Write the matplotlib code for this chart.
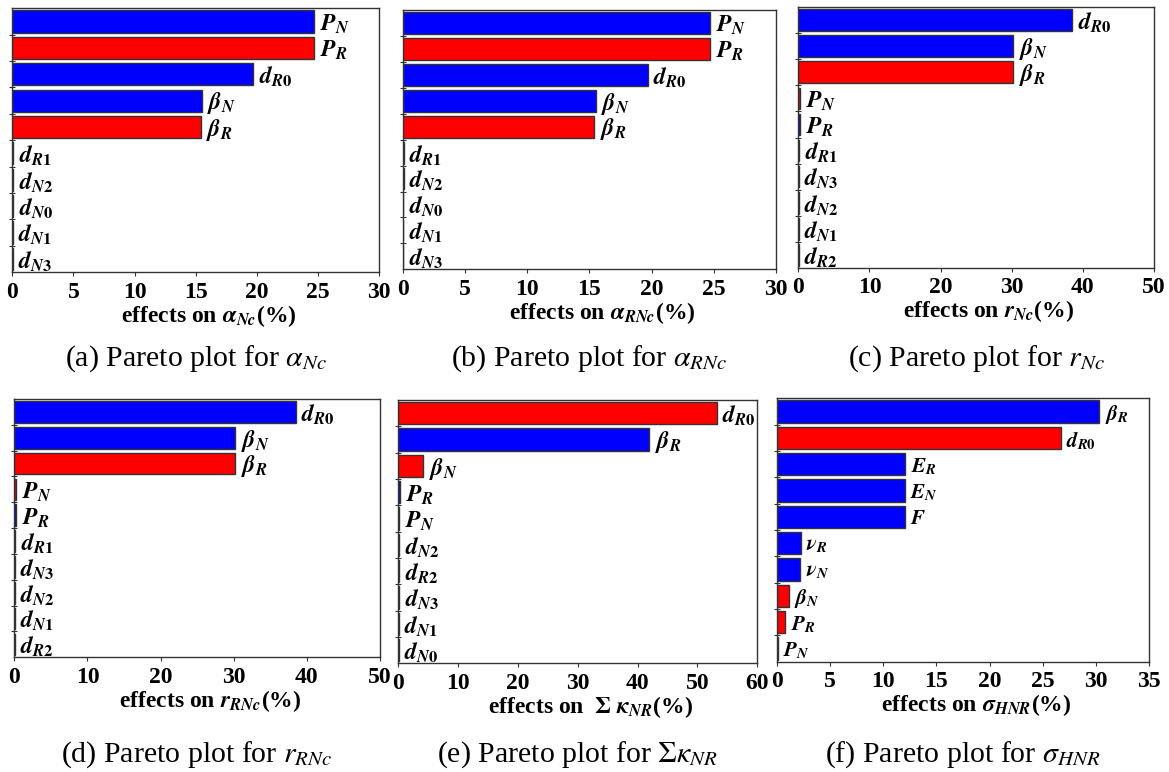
import numpy as np
import matplotlib
matplotlib.use('Agg')
import matplotlib.pyplot as plt

plt.rcParams['font.family'] = ['Liberation Serif', 'DejaVu Serif']
plt.rcParams['mathtext.fontset'] = 'stix'

B = '#0000ff'
R = '#ff0000'

# (a) effects on alpha_Nc
a_names = ['P_N', 'P_R', 'd_R0', 'beta_N', 'beta_R', 'd_R1', 'd_N2', 'd_N0', 'd_N1', 'd_N3']
a_values = [24.7, 24.7, 19.7, 15.5, 15.4, 0.08, 0.07, 0.06, 0.05, 0.04]
a_colors = [B, R, B, B, R, R, B, B, B, B]

# (b) effects on alpha_RNc
b_names = ['P_N', 'P_R', 'd_R0', 'beta_N', 'beta_R', 'd_R1', 'd_N2', 'd_N0', 'd_N1', 'd_N3']
b_values = [24.7, 24.7, 19.7, 15.5, 15.4, 0.08, 0.07, 0.06, 0.05, 0.04]
b_colors = [B, R, B, B, R, R, B, B, B, B]

# (c) effects on r_Nc
c_names = ['d_R0', 'beta_N', 'beta_R', 'P_N', 'P_R', 'd_R1', 'd_N3', 'd_N2', 'd_N1', 'd_R2']
c_values = [38.5, 30.2, 30.2, 0.3, 0.25, 0.1, 0.08, 0.07, 0.06, 0.05]
c_colors = [B, B, R, R, B, R, B, B, B, R]

# (d) effects on r_RNc
d_names = ['d_R0', 'beta_N', 'beta_R', 'P_N', 'P_R', 'd_R1', 'd_N3', 'd_N2', 'd_N1', 'd_R2']
d_values = [38.5, 30.2, 30.2, 0.3, 0.25, 0.1, 0.08, 0.07, 0.06, 0.05]
d_colors = [B, B, R, R, B, R, B, B, B, R]

# (e) effects on sum kappa_NR
e_names = ['d_R0', 'beta_R', 'beta_N', 'P_R', 'P_N', 'd_N2', 'd_R2', 'd_N3', 'd_N1', 'd_N0']
e_values = [53.2, 41.9, 4.2, 0.3, 0.2, 0.2, 0.15, 0.15, 0.1, 0.1]
e_colors = [R, B, R, B, B, B, R, B, R, B]

# (f) effects on sigma_HNR
f_names = ['beta_R', 'd_R0', 'E_R', 'E_N', 'F', 'nu_R', 'nu_N', 'beta_N', 'P_R', 'P_N']
f_values = [30.3, 26.7, 12.05, 12.0, 12.0, 2.25, 2.2, 1.1, 0.75, 0.05]
f_colors = [B, R, B, B, B, B, B, R, R, B]

panels = [
    dict(names=a_names, values=a_values, colors=a_colors, xmax=30, step=5,
         xlabel=r'effects on $\mathbfit{\alpha}_{\mathbfit{Nc}}$(%)',
         caption=r'(a) Pareto plot for $\alpha_{Nc}$', box=(12.3, 8.3, 379, 272), fs=17),
    dict(names=b_names, values=b_values, colors=b_colors, xmax=30, step=5,
         xlabel=r'effects on $\mathbfit{\alpha}_{\mathbfit{RNc}}$(%)',
         caption=r'(b) Pareto plot for $\alpha_{RNc}$', box=(402.7, 10, 776, 269.3), fs=17),
    dict(names=c_names, values=c_values, colors=c_colors, xmax=50, step=10,
         xlabel=r'effects on $\mathbfit{r}_{\mathbfit{Nc}}$(%)',
         caption=r'(c) Pareto plot for $r_{Nc}$', box=(798.3, 7.3, 1154, 267.7), fs=17),
    dict(names=d_names, values=d_values, colors=d_colors, xmax=50, step=10,
         xlabel=r'effects on $\mathbfit{r}_{\mathbfit{RNc}}$(%)',
         caption=r'(d) Pareto plot for $r_{RNc}$', box=(14.3, 399, 380, 657.3), fs=17),
    dict(names=e_names, values=e_values, colors=e_colors, xmax=60, step=10,
         xlabel=r'effects on  $\mathbf{\Sigma}\ \mathbfit{\kappa}_{\mathbfit{NR}}$(%)',
         caption=r'(e) Pareto plot for $\Sigma\kappa_{NR}$', box=(398.3, 400, 757.3, 663.3), fs=17),
    dict(names=f_names, values=f_values, colors=f_colors, xmax=35, step=5,
         xlabel=r'effects on $\mathbfit{\sigma}_{\mathbfit{HNR}}$(%)',
         caption=r'(f) Pareto plot for $\sigma_{HNR}$', box=(777, 398.3, 1149, 661.7), fs=15),
]

W, H = 1169, 772


def fmt(name):
    # "beta_R" -> bold italic beta with bold italic R subscript, digits upright bold
    base, _, sub = name.partition('_')
    if base in ('beta', 'nu'):
        base = '\\' + base
    s = ''.join(r'\mathbf{%s}' % ch if ch.isdigit() else r'\mathbfit{%s}' % ch for ch in sub)
    if s:
        return r'$\mathbfit{%s}_{%s}$' % (base, s)
    return r'$\mathbfit{%s}$' % base


fig = plt.figure(figsize=(W / 100, H / 100), dpi=100)

for p in panels:
    l, t, r, b = p['box']
    ax = fig.add_axes([l / W, 1 - b / H, (r - l) / W, (b - t) / H])
    n = len(p['names'])
    y = np.arange(n)
    ax.barh(y, p['values'], height=0.84, color=p['colors'],
            edgecolor='#333333', linewidth=1.0)
    for yi, v, nm in zip(y, p['values'], p['names']):
        ax.annotate(fmt(nm), (v, yi), xytext=(4, -2), textcoords='offset points',
                    ha='left', va='center', fontsize=p['fs'])
    ax.set_ylim(n - 0.5, -0.5)
    ax.set_xlim(0, p['xmax'])
    ax.set_xticks(np.arange(0, p['xmax'] + 0.1, p['step']))
    ax.set_yticks(np.arange(0.5, n - 1, 1.0))
    ax.set_yticklabels([])
    ax.tick_params(axis='y', direction='inout', length=5, width=0.8, color='#333333')
    ax.tick_params(axis='x', direction='out', length=3, width=0.8, pad=4,
                   labelsize=17, color='#333333')
    for lab in ax.get_xticklabels():
        lab.set_fontweight('bold')
    for sp in ax.spines.values():
        sp.set_color('#333333')
        sp.set_linewidth(1.0)
    ax.set_xlabel(p['xlabel'], fontsize=17, fontweight='bold', labelpad=0)
    ax.xaxis.label.set_x(0.535)
    base_y = 366 if t < 200 else 762
    fig.text((l + r) / 2 / W, 1 - base_y / H, p['caption'], ha='center',
             va='baseline', fontsize=21.5)

fig.savefig('out.png', dpi=100)
